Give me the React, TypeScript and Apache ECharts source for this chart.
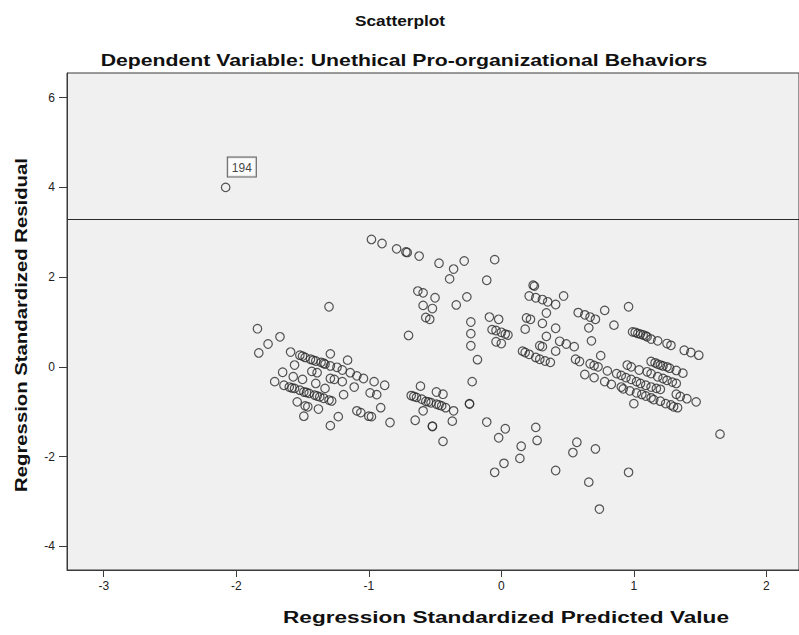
import React, { useEffect, useRef } from "react";
import * as echarts from "echarts";

const titleText = "Scatterplot";
const subtitleText = "Dependent Variable: Unethical Pro-organizational Behaviors";
const xAxisTitle = "Regression Standardized Predicted Value";
const yAxisTitle = "Regression Standardized Residual";

const xTicks = [-3, -2, -1, 0, 1, 2];
const yTicks = [-4, -2, 0, 2, 4, 6];
const referenceLine = 3.29;

const outlier = [[-2.08, 4.0]];
const outlierLabel = "194";

const upperArc = [
  [-0.98, 2.84], [-0.9, 2.75], [-0.79, 2.63], [-0.72, 2.56], [-0.71, 2.55], [-0.62, 2.47],
  [-0.47, 2.31], [-0.36, 2.18], [-0.28, 2.36], [-0.05, 2.39], [-0.39, 1.96], [-0.11, 1.93],
  [-0.63, 1.69], [-0.59, 1.65], [-0.5, 1.54], [-0.59, 1.37], [-0.52, 1.3], [-0.34, 1.38],
  [-0.26, 1.56], [-0.57, 1.1], [-0.54, 1.06], [-0.23, 1.0], [-0.23, 0.74], [-0.23, 0.47],
  [-0.18, 0.16], [-1.3, 1.34], [-0.7, 0.7],
];

const centerGroup = [
  [0.24, 1.82], [0.25, 1.8], [-0.09, 1.11], [-0.02, 1.06], [-0.07, 0.83], [-0.04, 0.81],
  [0.0, 0.77], [0.03, 0.73], [0.05, 0.71], [-0.04, 0.56], [0.0, 0.52], [0.19, 1.09],
  [0.22, 1.06], [0.18, 0.84], [0.21, 1.58], [0.26, 1.54], [0.31, 1.5], [0.35, 1.45],
  [0.41, 1.39], [0.47, 1.58], [0.34, 1.2], [0.31, 0.97], [0.41, 0.86], [0.34, 0.68],
  [0.29, 0.47], [0.31, 0.45], [0.16, 0.35], [0.18, 0.32], [0.21, 0.28], [0.26, 0.21],
  [0.29, 0.17], [0.33, 0.13], [0.37, 0.1], [0.41, 0.35], [0.44, 0.57], [0.49, 0.51],
  [0.55, 0.45],
];

const leftGroup = [
  [-1.84, 0.85], [-1.76, 0.51], [-1.67, 0.67], [-1.83, 0.31], [-1.59, 0.33],
  [-1.52, 0.26], [-1.48, 0.21], [-1.44, 0.17], [-1.4, 0.13], [-1.36, 0.1], [-1.33, 0.06],
  [-1.29, 0.02], [-1.24, -0.01], [-1.2, -0.07], [-1.5, 0.24], [-1.42, 0.15], [-1.34, 0.08],
  [-1.29, 0.29], [-1.16, 0.15], [-1.56, 0.04], [-1.65, -0.12], [-1.43, -0.1], [-1.39, -0.13],
  [-1.14, -0.13], [-1.09, -0.2], [-1.04, -0.26], [-1.71, -0.33], [-1.57, -0.22], [-1.5, -0.28],
  [-1.64, -0.41], [-1.6, -0.45], [-1.56, -0.48], [-1.52, -0.52], [-1.49, -0.56], [-1.45, -0.59],
  [-1.41, -0.63], [-1.37, -0.67], [-1.34, -0.7], [-1.3, -0.74], [-1.58, -0.47], [-1.47, -0.57],
  [-1.39, -0.65], [-1.4, -0.37], [-1.33, -0.48], [-1.29, -0.26], [-1.26, -0.28], [-1.2, -0.33],
  [-1.19, -0.62], [-1.11, -0.45], [-0.96, -0.33], [-0.88, -0.41], [-0.99, -0.58], [-0.94, -0.62],
  [-1.54, -0.78], [-1.48, -0.87], [-1.46, -0.89], [-1.38, -0.94], [-1.28, -0.76], [-1.49, -1.1],
  [-1.23, -1.11], [-1.29, -1.31], [-1.09, -0.98], [-1.06, -1.02], [-1.0, -1.1], [-0.98, -1.11],
];

const lowerMid = [
  [-0.22, -0.33], [-0.24, -0.82], [-0.24, -0.83], [-0.91, -0.91], [-0.84, -1.24], [-0.61, -0.43],
  [-0.68, -0.64], [-0.64, -0.68], [-0.6, -0.72], [-0.57, -0.77], [-0.53, -0.8], [-0.49, -0.83],
  [-0.45, -0.87], [-0.42, -0.91], [-0.66, -0.66], [-0.55, -0.78], [-0.47, -0.85],
  [-0.49, -0.56], [-0.44, -0.61], [-0.59, -0.98], [-0.36, -0.98], [-0.65, -1.19], [-0.52, -1.32],
  [-0.52, -1.33], [-0.37, -1.21], [-0.44, -1.66], [-0.11, -1.23], [0.03, -1.38], [-0.02, -1.58],
  [0.26, -1.35], [0.27, -1.64], [0.15, -1.77], [0.14, -2.04], [0.02, -2.15], [-0.05, -2.35],
  [0.41, -2.31], [0.57, -1.68], [0.54, -1.91], [0.71, -1.83], [0.66, -2.57], [0.96, -2.35],
  [0.74, -3.17], [1.65, -1.5], [1.0, -0.82],
];

const rightGroup = [
  [0.58, 1.21], [0.63, 1.16], [0.67, 1.11], [0.71, 1.06], [0.78, 1.26], [0.96, 1.34],
  [0.85, 0.93], [0.66, 0.87], [0.68, 0.58],
  [0.99, 0.78], [1.01, 0.77], [1.03, 0.745], [1.05, 0.73], [1.07, 0.71], [1.09, 0.69],
  [1.1, 0.67], [1.13, 0.62], [1.18, 0.58], [1.25, 0.52], [1.28, 0.48], [1.38, 0.37],
  [1.43, 0.32], [1.49, 0.26],
  [0.75, 0.25], [0.56, 0.17], [0.59, 0.12], [0.67, 0.07], [0.7, 0.03], [0.73, 0.0],
  [0.63, -0.17], [0.7, -0.24], [0.78, -0.33], [0.83, -0.39],
  [1.13, 0.12], [1.16, 0.09], [1.18, 0.06], [1.2, 0.04], [1.22, 0.02], [1.25, 0.0],
  [1.27, -0.03], [1.32, -0.08], [1.37, -0.14],
  [0.95, 0.04], [0.98, 0.0], [1.04, -0.07], [1.1, -0.11], [1.13, -0.15], [1.18, -0.22],
  [1.22, -0.26], [1.25, -0.3], [1.29, -0.34], [1.32, -0.37],
  [0.8, -0.09], [0.87, -0.15], [0.905, -0.19], [0.94, -0.24], [0.98, -0.28], [1.02, -0.33],
  [1.05, -0.37], [1.09, -0.41], [1.13, -0.45], [1.17, -0.48], [1.2, -0.5],
  [0.905, -0.45], [0.92, -0.49], [0.97, -0.535], [1.02, -0.58], [1.06, -0.615], [1.09, -0.65],
  [1.13, -0.69], [1.15, -0.73], [1.2, -0.765],
  [1.32, -0.61], [1.35, -0.66], [1.4, -0.71], [1.47, -0.78],
  [1.24, -0.82], [1.28, -0.85], [1.3, -0.89], [1.33, -0.91],
];

const FONT = "'Liberation Sans', Arial, sans-serif";

export default function App() {
  const ref = useRef<HTMLDivElement>(null);
  useEffect(() => {
    if (!ref.current) return;
    const chart = echarts.init(ref.current, null, { renderer: "svg" });
    const pointStyle = {
      color: "rgba(0,0,0,0)",
      borderColor: "#2a2a2a",
      borderWidth: 1.2,
    };
    const allPoints = [...upperArc, ...centerGroup, ...leftGroup, ...lowerMid, ...rightGroup];
    const boldText = (
      text: string,
      x: number,
      y: number,
      fontSize: number,
      scaleX: number,
      rotation = 0
    ) => ({
      type: "text",
      x,
      y,
      rotation,
      scaleX,
      style: {
        text,
        fontFamily: FONT,
        fontSize,
        fontWeight: "bold",
        fill: "#111",
        align: "center",
        verticalAlign: "middle",
      },
    });
    chart.setOption({
      animation: false,
      backgroundColor: "#ffffff",
      textStyle: { fontFamily: FONT },
      grid: {
        left: 67,
        top: 73,
        right: -7,
        bottom: 65,
        show: true,
        backgroundColor: "#f0f0f0",
        borderColor: "#3a3a3a",
        borderWidth: 1,
      },
      xAxis: {
        type: "value",
        min: -3.277,
        max: 2.246,
        splitLine: { show: false },
        axisLine: { show: true, onZero: false, lineStyle: { color: "#3a3a3a", width: 1 } },
        axisTick: {
          show: true,
          length: 7,
          customValues: xTicks,
          lineStyle: { color: "#3a3a3a" },
        },
        axisLabel: {
          customValues: xTicks,
          color: "#222",
          fontSize: 12,
          margin: 10,
          fontFamily: FONT,
        },
      },
      yAxis: {
        type: "value",
        min: -4.528,
        max: 6.55,
        splitLine: { show: false },
        axisLine: { show: true, onZero: false, lineStyle: { color: "#3a3a3a", width: 1 } },
        axisTick: {
          show: true,
          length: 8,
          customValues: yTicks,
          lineStyle: { color: "#3a3a3a" },
        },
        axisLabel: {
          customValues: yTicks,
          color: "#222",
          fontSize: 12,
          margin: 12,
          fontFamily: FONT,
        },
      },
      graphic: [
        boldText(titleText, 400, 20, 15, 1.15),
        boldText(subtitleText, 404, 60, 17, 1.25),
        boldText(xAxisTitle, 506, 617, 17, 1.33),
        boldText(yAxisTitle, 21, 325, 16, 1.27, Math.PI / 2),
      ],
      series: [
        {
          type: "scatter",
          data: allPoints,
          symbol: "circle",
          symbolSize: 8.5,
          itemStyle: pointStyle,
          emphasis: { disabled: true },
          markLine: {
            silent: true,
            symbol: "none",
            label: { show: false },
            lineStyle: { color: "#2a2a2a", width: 1, type: "solid" },
            data: [{ yAxis: referenceLine }],
          },
        },
        {
          type: "scatter",
          data: outlier,
          symbol: "circle",
          symbolSize: 8.5,
          itemStyle: pointStyle,
          emphasis: { disabled: true },
          label: {
            show: true,
            formatter: () => outlierLabel,
            position: [7, -25],
            align: "left",
            verticalAlign: "top",
            fontFamily: FONT,
            fontSize: 12,
            color: "#111",
            backgroundColor: "#ffffff",
            borderColor: "#3a3a3a",
            borderWidth: 1,
            padding: [4, 4, 3, 4],
          },
        },
      ],
    });
    return () => chart.dispose();
  }, []);
  return (
    <div
      ref={ref}
      style={{ position: "absolute", left: 0, top: 0, width: 799, height: 635 }}
    />
  );
}
